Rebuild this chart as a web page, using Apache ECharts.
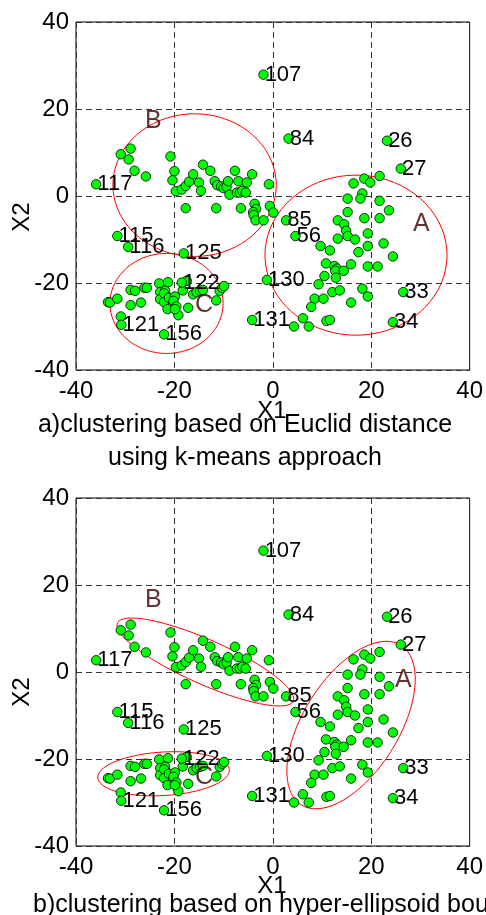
<!DOCTYPE html>
<html>
<head>
<meta charset="utf-8">
<script src="https://cdn.jsdelivr.net/npm/echarts@6/dist/echarts.min.js"></script>
<style>
  html, body { margin: 0; padding: 0; background: #fff; }
  #chart { width: 486px; height: 915px; }
</style>
</head>
<body>
<div id="chart"></div>
<script>
// cluster A (right), B (upper left), C (lower left)
const clusterA = [
  [16.4, 2.9], [18.6, 4.0], [19.8, 3.1], [21.7, 4.6], [18.2, 0.6], [17.8, -0.6],
  [15.2, -0.6], [21.7, -1.1], [23.6, -3.3], [15.2, -3.7], [18.6, -5.1], [21.7, -5.1],
  [13.2, -5.6], [14.5, -6.5], [14.9, -8.0], [13.2, -9.8], [15.2, -9.2], [16.7, -10.0],
  [19.3, -8.6], [19.3, -11.5], [22.5, -10.9], [24.4, -13.9], [17.4, -12.9], [9.7, -11.5],
  [11.6, -12.5], [15.9, -15.7], [19.3, -16.2], [21.3, -16.2], [10.8, -15.5], [12.5, -16.1],
  [13.0, -16.7], [12.7, -17.2], [14.4, -17.2], [10.5, -18.4], [12.8, -18.8], [9.3, -20.3],
  [12.1, -22.1], [13.6, -21.7], [18.2, -21.3], [19.3, -23.1], [15.9, -24.5], [8.5, -23.6],
  [10.3, -23.6], [7.8, -25.5], [6.1, -28.1], [7.3, -30.0], [4.3, -30.0], [10.9, -28.7],
  [11.6, -28.5]
];
const clusterB = [
  [-30.9, 9.6], [-28.9, 10.9], [-29.3, 8.4], [-28.1, 5.8], [-25.8, 4.5], [-20.8, 9.1],
  [-20.0, 5.7], [-20.4, 3.6], [-19.7, 1.1], [-18.5, 1.5], [-17.7, 2.3], [-17.0, 3.3],
  [-16.2, 5.0], [-15.0, 3.1], [-14.6, 1.2], [-14.2, 7.2], [-12.7, 5.8], [-11.8, 3.4],
  [-11.3, 2.5], [-10.5, 2.2], [-10.0, 1.8], [-9.4, 2.1], [-9.1, 3.4], [-8.8, 0.3],
  [-7.7, 5.8], [-7.0, 3.4], [-7.3, 0.8], [-6.7, 0.8], [-6.2, 1.2], [-5.5, 0.8],
  [-5.3, 3.1], [-4.2, 5.0], [-0.8, 2.7], [-17.7, -2.8], [-11.5, -2.8], [-6.5, -2.8],
  [-3.7, -1.8], [-3.4, -3.0], [-4.0, -3.7], [-3.9, -4.4], [-3.5, -5.6], [-1.9, -5.6],
  [-0.6, -2.3], [0.1, -3.8]
];
const clusterC = [
  [-33.5, -24.4], [-33.1, -24.5], [-31.6, -23.6], [-30.9, -27.7], [-28.9, -21.6], [-28.0, -21.8],
  [-28.9, -25.1], [-26.8, -24.5], [-26.1, -21.1], [-25.6, -21.1], [-23.1, -20.1], [-21.3, -19.8],
  [-22.9, -22.1], [-21.9, -21.8], [-22.9, -23.7], [-22.1, -22.4], [-22.1, -24.4], [-21.1, -23.4],
  [-19.9, -23.1], [-20.2, -24.1], [-21.4, -26.0], [-19.6, -25.4], [-19.2, -27.4], [-19.9, -26.0],
  [-17.5, -19.5], [-18.3, -21.7], [-17.2, -25.7], [-16.2, -22.6], [-15.5, -22.1], [-14.8, -21.8],
  [-14.2, -21.6], [-11.5, -24.0], [-10.8, -21.8], [-10.3, -21.1], [-9.9, -20.7]
];
// numbered samples: x, y, id
const namedPoints = [
  [-1.9, 27.9, '107'], [3.2, 13.2, '84'], [23.2, 12.7, '26'], [26.0, 6.3, '27'],
  [-35.9, 2.7, '117'], [2.7, -5.6, '85'], [4.6, -9.2, '56'], [-31.6, -9.2, '115'],
  [-29.4, -11.7, '116'], [-18.1, -13.2, '125'], [-18.5, -19.9, '122'], [-1.2, -19.3, '130'],
  [-4.2, -28.5, '131'], [26.5, -22.1, '33'], [24.4, -29.0, '34'], [-30.8, -29.6, '121'],
  [-22.1, -31.8, '156']
];
// cluster boundaries: centre x, centre y, semi-axis a, semi-axis b, angle (deg)
const boundsKMeans = [[16.9, -13.6, 18.5, 18.4, 0], [-15.9, 2.5, 16.6, 16.4, 0], [-21.6, -24.7, 11.5, 11.5, 0]];
const boundsEllipsoid = [[15.9, -12.2, 21, 10, 63], [-13.7, 2.3, 20, 5, -27], [-22.2, -23.4, 13.4, 5.0, 4]];
const clusterNames = ['A', 'B', 'C'];
const namePosKMeans = [[30.2, -6.5], [-24.3, 17.2], [-14.0, -25.1]];
const namePosEllipsoid = [[26.5, -1.9], [-24.3, 16.5], [-14.0, -24.1]];

const FONT = 'Liberation Sans, Arial, sans-serif';
const chart = echarts.init(document.getElementById('chart'));

function axisX(gi) {
  return {
    type: 'value', gridIndex: gi, min: -40, max: 40, interval: 20,
    axisLine: { show: false }, axisTick: { show: false },
    axisLabel: { color: '#000', fontSize: 24, fontFamily: FONT, margin: 9 },
    splitLine: { show: true, lineStyle: { color: '#333', type: [6, 4], width: 1 } },
  };
}
function axisY(gi) {
  return {
    type: 'value', gridIndex: gi, min: -40, max: 40, interval: 20,
    axisLine: { show: false }, axisTick: { show: false },
    axisLabel: { color: '#000', fontSize: 24, fontFamily: FONT, margin: 7 },
    splitLine: { show: true, lineStyle: { color: '#333', type: [6, 4], width: 1 } },
  };
}

function ellipseSeries(gi, bounds) {
  return {
    type: 'custom', xAxisIndex: gi, yAxisIndex: gi, z: 3, silent: true,
    encode: { x: 0, y: 1 },
    data: bounds,
    renderItem: (params, api) => {
      const cx = api.value(0), cy = api.value(1), a = api.value(2), b = api.value(3);
      const ang = api.value(4) * Math.PI / 180;
      const pts = [];
      for (let i = 0; i < 72; i++) {
        const t = i / 72 * Math.PI * 2;
        const dx = a * Math.cos(t), dy = b * Math.sin(t);
        pts.push(api.coord([cx + dx * Math.cos(ang) - dy * Math.sin(ang), cy + dx * Math.sin(ang) + dy * Math.cos(ang)]));
      }
      return { type: 'polygon', shape: { points: pts }, style: { fill: 'none', stroke: '#ff0000', lineWidth: 1 } };
    },
  };
}

function pointSeries(gi, data, labelled) {
  return {
    type: 'scatter', xAxisIndex: gi, yAxisIndex: gi, z: 4, silent: true,
    symbol: 'circle', symbolSize: 9.5,
    itemStyle: { color: '#00ff00', borderColor: '#000', borderWidth: 0.8, opacity: 1 },
    label: labelled ? {
      show: true, position: 'right', distance: -4, color: '#000',
      fontSize: 22, fontFamily: FONT, formatter: p => p.data[2],
    } : { show: false },
    data: data,
  };
}

function nameSeries(gi, pos) {
  return {
    type: 'scatter', xAxisIndex: gi, yAxisIndex: gi, z: 5, silent: true,
    symbolSize: 1, itemStyle: { color: 'rgba(0,0,0,0)' },
    label: { show: true, position: 'inside', color: '#3a0000', fontSize: 25, fontFamily: FONT, formatter: p => p.data[2] },
    data: pos.map((p, i) => [p[0], p[1], clusterNames[i]]),
  };
}

const series = [];
[[0, boundsKMeans, namePosKMeans], [1, boundsEllipsoid, namePosEllipsoid]].forEach(([gi, bounds, pos]) => {
  series.push(ellipseSeries(gi, bounds));
  series.push(pointSeries(gi, clusterA.concat(clusterB, clusterC), false));
  series.push(pointSeries(gi, namedPoints, true));
  series.push(nameSeries(gi, pos));
});

function txt(x, y, text, size, align, rotation) {
  return {
    type: 'text', x: x, y: y, silent: true, rotation: rotation || 0,
    style: {
      text: text, fill: '#000', fontSize: size, fontFamily: FONT,
      align: align, verticalAlign: 'middle', textAlign: align, textVerticalAlign: 'middle',
    },
  };
}

chart.setOption({
  animation: false,
  backgroundColor: '#fff',
  grid: [
    { left: 76, width: 396, top: 22, height: 348, show: true, borderColor: '#000', borderWidth: 1, backgroundColor: '#fff' },
    { left: 76, width: 396, top: 498, height: 348, show: true, borderColor: '#000', borderWidth: 1, backgroundColor: '#fff' },
  ],
  xAxis: [axisX(0), axisX(1)],
  yAxis: [axisY(0), axisY(1)],
  series: series,
  graphic: [
    txt(272, 411, 'X1', 24, 'center'),
    txt(22, 217, 'X2', 24, 'center', Math.PI / 2),
    txt(245, 425, 'a)clustering based on Euclid distance', 25, 'center'),
    txt(245, 458, 'using k-means approach', 25, 'center'),
    txt(272, 886, 'X1', 24, 'center'),
    txt(22, 692, 'X2', 24, 'center', Math.PI / 2),
    txt(33, 905, 'b)clustering based on hyper-ellipsoid boundaries', 25, 'left'),
  ],
});
</script>
</body>
</html>
